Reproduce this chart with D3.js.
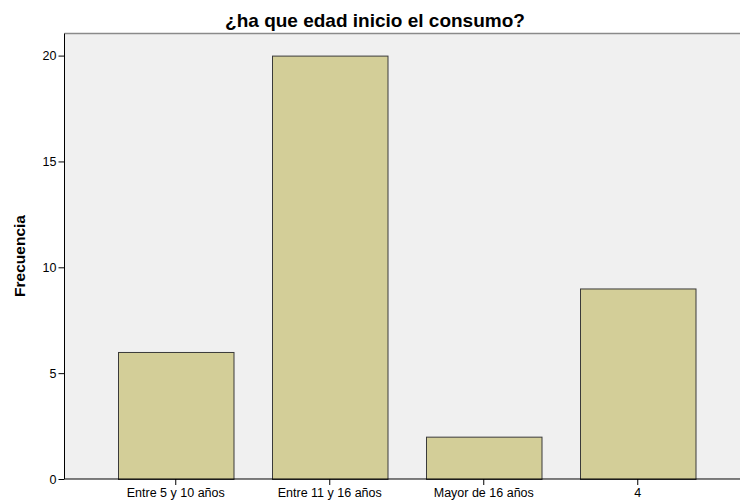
<!DOCTYPE html>
<html><head><meta charset="utf-8">
<script src="https://cdn.jsdelivr.net/npm/d3@7"></script>
<style>body{margin:0;background:#fff}svg{display:block}</style>
</head><body>
<svg id="c" width="740" height="501"></svg>
<script>
const categories = ["Entre 5 y 10 años", "Entre 11 y 16 años", "Mayor de 16 años", "4"];
const values = [6, 20, 2, 9];
const yTicks = [0, 5, 10, 15, 20];
const title = "¿ha que edad inicio el consumo?";
const yLabel = "Frecuencia";

const svg = d3.select("#c");
const font = "'Liberation Sans', Arial, sans-serif";
const plot = {left: 64.5, top: 33.5, right: 741, bottom: 479};

svg.append("rect").attr("x", plot.left).attr("y", plot.top)
  .attr("width", plot.right - plot.left).attr("height", plot.bottom - plot.top)
  .attr("fill", "#f0f0f0");
svg.append("line").attr("x1", plot.left).attr("x2", plot.right)
  .attr("y1", plot.top).attr("y2", plot.top).attr("stroke", "#8a8a8a").attr("stroke-width", 1.5);

const x = d3.scaleBand().domain(categories).range([98.75, 714.75]).paddingInner(0.25).paddingOuter(0.125);
const y = d3.scaleLinear().domain([0, 20]).range([479, 55.6]);

svg.selectAll("rect.bar").data(values).enter().append("rect").attr("class", "bar")
  .attr("x", (d, i) => Math.round(x(categories[i])) + 0.5)
  .attr("width", x.bandwidth())
  .attr("y", d => y(d) + 0.5)
  .attr("height", d => y(0) - y(d))
  .attr("fill", "#d3ce98").attr("stroke", "#3a3a3a").attr("stroke-width", 1);

const yAxis = svg.append("g").attr("transform", `translate(${plot.left},0)`)
  .call(d3.axisLeft(y).tickValues(yTicks).tickSize(6).tickPadding(2));
yAxis.select(".domain").attr("d", `M0,${plot.top}V${plot.bottom}`).attr("stroke", "#000");
yAxis.selectAll("text").attr("font-family", font).attr("font-size", 12.5).attr("fill", "#000");

const xAxis = svg.append("g").attr("transform", `translate(0,${plot.bottom})`)
  .call(d3.axisBottom(x).tickSize(6).tickPadding(3));
xAxis.select(".domain").attr("d", `M${plot.left},0H${plot.right}`).attr("stroke", "#000");
xAxis.selectAll("text").attr("font-family", font).attr("font-size", 12.5).attr("fill", "#000");

svg.append("text").attr("x", 375).attr("y", 26.5).attr("text-anchor", "middle")
  .attr("font-family", font).attr("font-weight", "bold").attr("font-size", 19).text(title);
svg.append("text").attr("transform", "translate(24.5,256) rotate(-90)").attr("text-anchor", "middle")
  .attr("font-family", font).attr("font-weight", "bold").attr("font-size", 15.5).text(yLabel);
</script>
</body></html>
